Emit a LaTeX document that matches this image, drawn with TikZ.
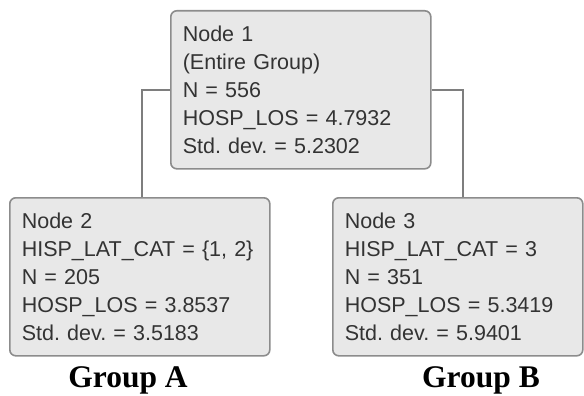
\documentclass[tikz,border=0pt]{standalone}
\usepackage{fontspec}
\setmainfont{Liberation Serif}
\newfontfamily\treefont{Liberation Sans}
\usetikzlibrary{positioning}
\frenchspacing

\definecolor{boxfill}{HTML}{E8E8E8}
\definecolor{boxline}{HTML}{8C8C8C}
\definecolor{boxtext}{HTML}{333333}

\tikzset{
  treebox/.style={draw=boxline, fill=boxfill, line width=1.6pt, rounded corners=6pt,
    anchor=north west, inner xsep=12pt, align=left, text=boxtext,
    minimum height=158pt, font=\treefont\fontsize{21.5}{28}\selectfont},
  branch/.style={draw=boxline!90!black, line width=1.5pt},
  grouplabel/.style={anchor=base, font=\fontsize{31.5}{34}\selectfont\bfseries}
}

\begin{document}
\begin{tikzpicture}[x=1pt,y=-1pt]
        \useasboundingbox (0,0) rectangle (584,396);

        % Nodo raiz del arbol.
        \node[treebox, text width=236pt] (n1) at (170,10)
          {Node 1\\(Entire Group)\\N = 556\\HOSP\_LOS = 4.7932\\Std. dev. = 5.2302};

        % Los dos nodos hijos.
        \node[treebox, text width=236pt] (n2) at (9,197)
          {Node 2\\HISP\_LAT\_CAT = \{1, 2\}\\N = 205\\HOSP\_LOS = 3.8537\\Std. dev. = 3.5183};
        \node[treebox, text width=226pt] (n3) at (332,197)
          {Node 3\\HISP\_LAT\_CAT = 3\\N = 351\\HOSP\_LOS = 5.3419\\Std. dev. = 5.9401};

        % Ramas desde la raiz.
        \draw[branch] (n1.west) -| ([xshift=2pt]n2.north);
        \draw[branch] (n1.east) -| ([xshift=5pt]n3.north);

        % Etiquetas de grupo.
        \node[grouplabel] (ga) at (128,387) {Group A};
        \node[grouplabel] (gb) at (481,387) {Group B};
    \end{tikzpicture}
\end{document}
